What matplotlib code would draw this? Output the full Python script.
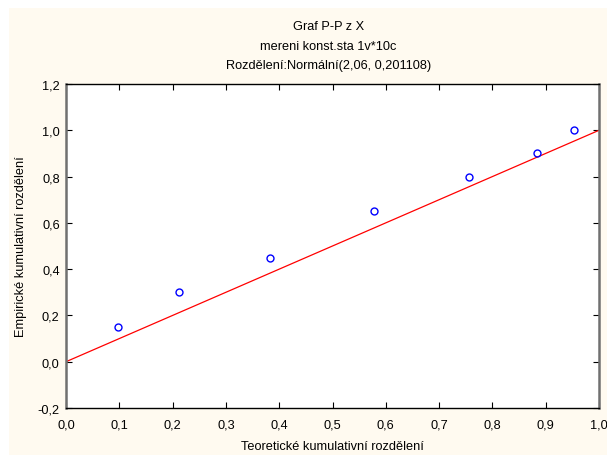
import numpy as np
import matplotlib.pyplot as plt
from matplotlib.patches import Rectangle
from matplotlib.ticker import FuncFormatter

# teoreticke vs empiricke kumulativni rozdeleni
theoretical = [0.097, 0.212, 0.382, 0.578, 0.757, 0.883, 0.953]
empirical = [0.15, 0.30, 0.45, 0.65, 0.80, 0.90, 1.00]
ref_line = [0.0, 1.0]

title_lines = ["Graf P-P z X", "mereni konst.sta 1v*10c",
               "Rozdělení:Normální(2,06, 0,201108)"]

plt.rcParams['font.family'] = ['Liberation Sans', 'DejaVu Sans']
plt.rcParams['font.size'] = 9.2

fig = plt.figure(figsize=(6.07, 4.56), dpi=100)
fig.patch.set_facecolor('white')
fig.patches.append(Rectangle((9 / 607, 0), 1, 1 - 9 / 456, transform=fig.transFigure,
                             facecolor='#FFFAF0', edgecolor='none', zorder=-10))

ax = fig.add_axes([66 / 607, 1 - 409 / 456, (599 - 66) / 607, (409 - 85) / 456])
ax.set_facecolor('white')

ax.plot(ref_line, ref_line, color='#FF0000', lw=0.9)
ax.plot(theoretical, empirical, 'o', mfc='none', mec='#0000FF', ms=5, mew=1.0)

ax.set_xlim(0, 1)
ax.set_ylim(-0.2, 1.2)
ax.set_xticks(np.arange(0, 1.01, 0.1))
ax.set_yticks(np.arange(-0.2, 1.21, 0.2))
fmt = FuncFormatter(lambda v, p: f"{v:.1f}".replace('.', ',').replace('-0,0', '0,0'))
ax.xaxis.set_major_formatter(fmt)
ax.yaxis.set_major_formatter(fmt)
ax.tick_params(direction='in', length=4, width=0.8, top=True, right=True,
               labeltop=False, labelright=False, labelsize=9.2)
ax.tick_params(axis='x', pad=7.5)
ax.tick_params(axis='y', pad=4.5)

for side in ['left', 'right']:
    ax.spines[side].set_color('#707070')
    ax.spines[side].set_linewidth(1.8)
for side in ['top', 'bottom']:
    ax.spines[side].set_color('black')
    ax.spines[side].set_linewidth(1.0)

ax.set_xlabel("Teoretické kumulativní rozdělení", labelpad=7)
ax.set_ylabel("Empirické kumulativní rozdělení", labelpad=8)

for i, t in enumerate(title_lines):
    fig.text(0.5 + 25 / 607, 1 - (27 + 19.5 * i) / 456, t, ha='center', va='center')

fig.savefig("out.png", dpi=100)
